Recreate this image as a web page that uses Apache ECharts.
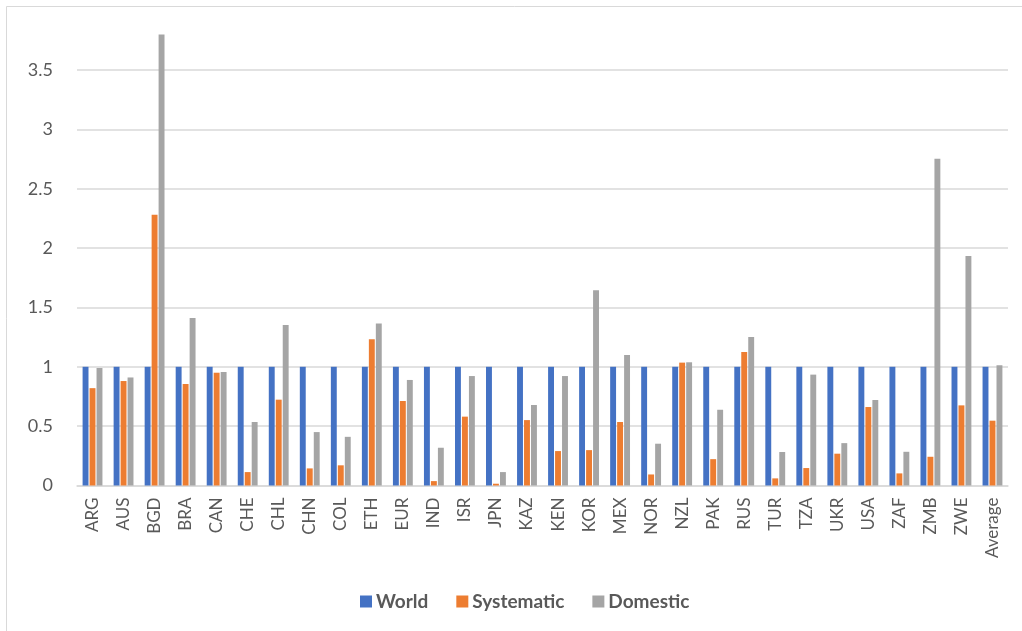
<!DOCTYPE html>
<html>
<head>
<meta charset="utf-8">
<script src="https://cdn.jsdelivr.net/npm/echarts@6/dist/echarts.min.js"></script>
<style>
  html, body { margin: 0; padding: 0; background: #fff; }
  #chart { width: 1022px; height: 631px; }
</style>
</head>
<body>
<div id="chart"></div>
<script>
// Country codes along the category axis
const categories = ['ARG','AUS','BGD','BRA','CAN','CHE','CHL','CHN','COL','ETH','EUR','IND','ISR','JPN','KAZ','KEN','KOR','MEX','NOR','NZL','PAK','RUS','TUR','TZA','UKR','USA','ZAF','ZMB','ZWE','Average'];

// Series values
const world = [1,1,1,1,1,1,1,1,1,1,1,1,1,1,1,1,1,1,1,1,1,1,1,1,1,1,1,1,1,1];
const systematic = [0.82,0.88,2.28,0.855,0.95,0.113,0.723,0.144,0.17,1.232,0.712,0.037,0.58,0.015,0.551,0.29,0.298,0.535,0.093,1.035,0.222,1.125,0.06,0.147,0.268,0.661,0.102,0.242,0.675,0.546];
const domestic = [0.99,0.91,3.80,1.41,0.956,0.535,1.352,0.45,0.41,1.364,0.889,0.318,0.922,0.113,0.678,0.922,1.645,1.10,0.352,1.038,0.638,1.251,0.282,0.934,0.357,0.72,0.284,2.752,1.934,1.013];

// Y axis ticks
const yMin = 0;
const yMax = 3.5;
const yStep = 0.5;

const FONT = 'Lato, "Open Sans", sans-serif';
const TEXT = '#595959';

const chart = echarts.init(document.getElementById('chart'), null, { renderer: 'canvas' });

function barSeries(name, data, color) {
  return {
    name: name,
    type: 'bar',
    data: data,
    clip: false,
    barGap: '18%',
    barCategoryGap: '36%',
    itemStyle: { color: color },
    emphasis: { disabled: true }
  };
}

chart.setOption({
  animation: false,
  backgroundColor: '#ffffff',
  textStyle: { fontFamily: FONT },
  graphic: [
    // chart frame edges (left and top)
    { type: 'line', shape: { x1: 6.5, y1: 6.5, x2: 6.5, y2: 631 }, style: { stroke: '#D9D9D9', lineWidth: 1 } },
    { type: 'line', shape: { x1: 6.5, y1: 6.5, x2: 1022, y2: 6.5 }, style: { stroke: '#D9D9D9', lineWidth: 1 } }
  ],
  grid: { left: 77, right: 14, top: 70, bottom: 145.5, containLabel: false },
  legend: {
    data: ['World', 'Systematic', 'Domestic'],
    top: 587,
    left: 355,
    itemWidth: 12,
    itemHeight: 12,
    itemGap: 28,
    icon: 'rect',
    textStyle: { fontFamily: FONT, fontSize: 19, fontWeight: 'bold', color: TEXT, padding: [0, 0, 0, -1] }
  },
  xAxis: {
    type: 'category',
    data: categories,
    axisLine: { show: true, lineStyle: { color: '#D9D9D9', width: 1.5 } },
    axisTick: { show: false },
    axisLabel: { rotate: 90, margin: 12, fontSize: 17, color: TEXT, fontFamily: FONT, interval: 0 }
  },
  yAxis: {
    type: 'value',
    min: yMin,
    max: yMax,
    interval: yStep,
    axisLine: { show: false },
    axisTick: { show: false },
    axisLabel: { fontSize: 18, color: TEXT, fontFamily: FONT, margin: 24 },
    splitLine: { lineStyle: { color: '#D9D9D9', width: 1.5 } }
  },
  series: [
    barSeries('World', world, '#4472C4'),
    barSeries('Systematic', systematic, '#ED7D31'),
    barSeries('Domestic', domestic, '#A5A5A5')
  ]
});
</script>
</body>
</html>
